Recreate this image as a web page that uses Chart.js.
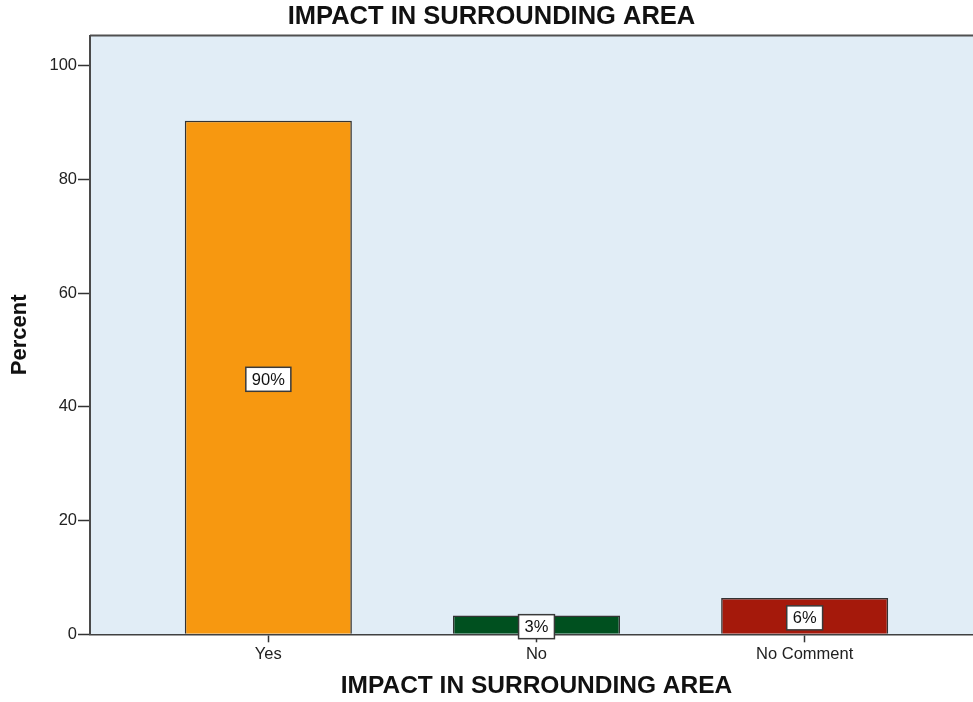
<!DOCTYPE html>
<html>
<head>
<meta charset="utf-8">
<title>IMPACT IN SURROUNDING AREA</title>
<script src="https://cdn.jsdelivr.net/npm/chart.js@4/dist/chart.umd.min.js"></script>
<style>
  html, body { margin: 0; padding: 0; background: #ffffff; overflow: hidden; }
  #wrap { width: 983px; height: 702px; }
</style>
</head>
<body>
<div id="wrap"><canvas id="chart" width="983" height="702"></canvas></div>
<script>
// Survey responses: share of respondents (%)
const categories = ['Yes', 'No', 'No Comment'];
const percentValues = [90.3, 3.3, 6.4];
const barColors = ['#F79810', '#00501F', '#A5190B'];
const yTickValues = [0, 20, 40, 60, 80, 100];

const chartTitle = 'IMPACT IN SURROUNDING AREA';
const xAxisTitle = 'IMPACT IN SURROUNDING AREA';
const yAxisTitle = 'Percent';

const FONT = '"Liberation Sans", Arial, sans-serif';

// Light blue plot background plus the top frame line
const plotBackground = {
  id: 'plotBackground',
  beforeDraw(chart) {
    const { ctx, chartArea: a } = chart;
    ctx.save();
    ctx.fillStyle = '#E1EDF6';
    ctx.fillRect(a.left, a.top, a.right - a.left, a.bottom - a.top);
    ctx.strokeStyle = '#505050';
    ctx.lineWidth = 2;
    ctx.beginPath();
    ctx.moveTo(a.left, a.top);
    ctx.lineTo(a.right, a.top);
    ctx.stroke();
    ctx.restore();
  }
};

// Boxed percentage labels in the middle of each bar
const valueBoxes = {
  id: 'valueBoxes',
  afterDatasetsDraw(chart) {
    const { ctx } = chart;
    const meta = chart.getDatasetMeta(0);
    ctx.save();
    ctx.font = '16.5px ' + FONT;
    ctx.textAlign = 'center';
    ctx.textBaseline = 'middle';
    meta.data.forEach((bar, i) => {
      const text = Math.round(percentValues[i]) + '%';
      const w = ctx.measureText(text).width + 12;
      const h = 24;
      const cx = bar.x;
      const cy = (bar.y + bar.base) / 2 + 2;
      ctx.fillStyle = '#ffffff';
      ctx.fillRect(cx - w / 2, cy - h / 2, w, h);
      ctx.strokeStyle = '#3a3a3a';
      ctx.lineWidth = 1.5;
      ctx.strokeRect(cx - w / 2, cy - h / 2, w, h);
      ctx.fillStyle = '#111111';
      ctx.fillText(text, cx, cy + 1);
    });
    ctx.restore();
  }
};

new Chart(document.getElementById('chart'), {
  type: 'bar',
  data: {
    datasets: [{
      data: categories.map((c, i) => ({ x: i, y: percentValues[i] })),
      backgroundColor: barColors,
      borderColor: '#333333',
      borderWidth: 1.5,
      barPercentage: 0.623,
      categoryPercentage: 1.0
    }]
  },
  options: {
    responsive: false,
    animation: false,
    devicePixelRatio: 1,
    layout: { padding: 0 },
    plugins: {
      legend: { display: false },
      tooltip: { enabled: false },
      title: {
        display: true,
        text: chartTitle,
        color: '#111111',
        font: { family: FONT, size: 25.5, weight: 'bold', lineHeight: 1.2 },
        padding: { top: 1.7, bottom: 3.2 }
      }
    },
    scales: {
      x: {
        type: 'linear',
        offset: false,
        min: -0.665,
        max: 2.665,
        afterFit(scale) { scale.height = 67.7; },
        afterBuildTicks(scale) { scale.ticks = categories.map((c, i) => ({ value: i })); },
        ticks: {
          autoSkip: false,
          maxRotation: 0,
          padding: 2,
          color: '#222222',
          font: { family: FONT, size: 16.5 },
          callback: (v) => categories[v]
        },
        grid: {
          offset: false,
          drawOnChartArea: false,
          drawTicks: true,
          tickLength: 8,
          tickColor: '#333333',
          tickWidth: 1.5
        },
        border: { display: true, color: '#404040', width: 1.5 },
        title: {
          display: true,
          text: xAxisTitle,
          color: '#111111',
          font: { family: FONT, size: 24.5, weight: 'bold', lineHeight: 1.2 },
          padding: { top: 0, bottom: 1.3 }
        }
      },
      y: {
        min: 0,
        max: 105.3,
        afterFit(scale) { scale.width = 90; },
        afterBuildTicks(scale) { scale.ticks = yTickValues.map(v => ({ value: v })); },
        ticks: {
          padding: 1,
          color: '#222222',
          font: { family: FONT, size: 16.5 }
        },
        grid: {
          drawOnChartArea: false,
          drawTicks: true,
          tickLength: 12,
          tickColor: '#333333',
          tickWidth: 1.5
        },
        border: { display: true, color: '#4a4a4a', width: 2 },
        title: {
          display: true,
          text: yAxisTitle,
          color: '#111111',
          font: { family: FONT, size: 22, weight: 'bold', lineHeight: 1.2 },
          padding: { top: 6.8, bottom: 0 }
        }
      }
    }
  },
  plugins: [plotBackground, valueBoxes]
});
</script>
</body>
</html>
